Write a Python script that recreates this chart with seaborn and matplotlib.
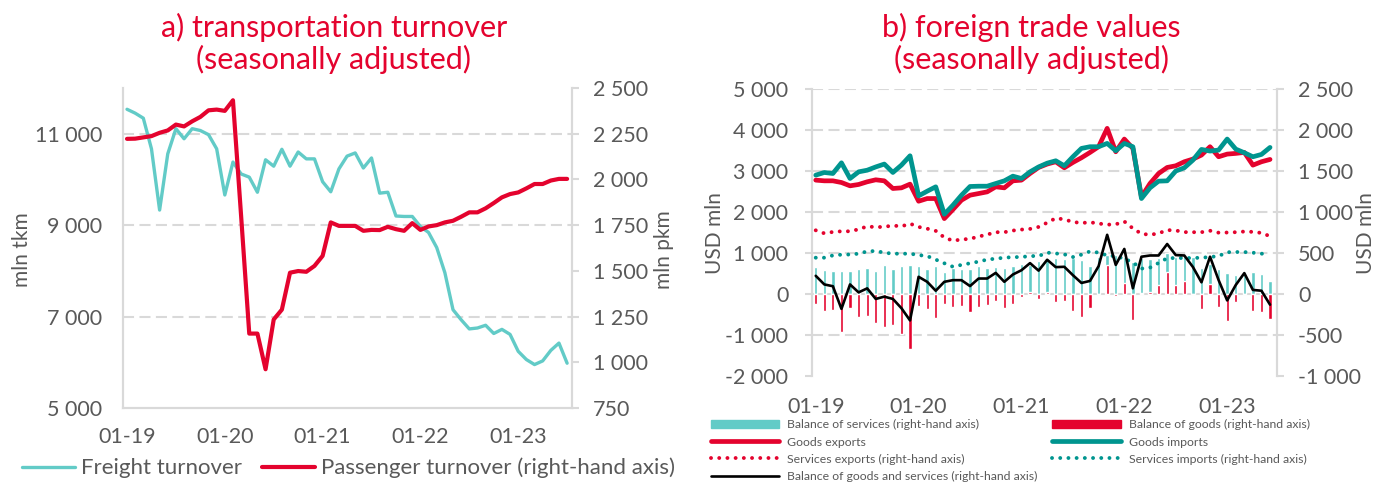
import numpy as np
import pandas as pd
import seaborn as sns
import matplotlib.pyplot as plt
from matplotlib.patches import Patch
from matplotlib.ticker import FuncFormatter, FixedLocator, MultipleLocator

# a) monthly, 01-19 .. 07-23
freight = [11535, 11450, 11340, 10670, 9330, 10560, 11110, 10890, 11110, 11070,
           10980, 10670, 9660, 10380, 10120, 10050, 9720, 10430, 10290, 10660,
           10290, 10600, 10450, 10450, 9950, 9730, 10230, 10510, 10580, 10250,
           10470, 9700, 9720, 9200, 9190, 9190, 8970, 8840, 8510, 7960,
           7150, 6930, 6730, 6750, 6810, 6630, 6720, 6610, 6240, 6060,
           5950, 6030, 6260, 6420, 5980]
passenger = [2222, 2223, 2230, 2237, 2255, 2268, 2300, 2290, 2318, 2342,
             2378, 2382, 2375, 2433, 1800, 1157, 1157, 962, 1234, 1288,
             1490, 1499, 1495, 1527, 1582, 1765, 1746, 1746, 1746, 1719,
             1724, 1723, 1741, 1728, 1719, 1761, 1724, 1743, 1750, 1765,
             1774, 1796, 1820, 1820, 1842, 1871, 1902, 1920, 1929, 1951,
             1975, 1975, 1994, 2003, 2003]

# b) monthly, 01-19 .. 06-23
goods_exports = [2778, 2761, 2761, 2720, 2639, 2672, 2737, 2786, 2761, 2574,
                 2590, 2680, 2264, 2329, 2329, 1840, 2060, 2289, 2411, 2451,
                 2492, 2615, 2590, 2761, 2778, 2940, 3087, 3170, 3226, 3079,
                 3209, 3324, 3454, 3593, 4041, 3470, 3780, 3552, 2370, 2696,
                 2940, 3087, 3128, 3226, 3291, 3389, 3593, 3348, 3413, 3430,
                 3454, 3144, 3226, 3283]
goods_imports = [2900, 2965, 2940, 3200, 2818, 2980, 3020, 3100, 3170, 2965,
                 3145, 3372, 2394, 2508, 2615, 1946, 2166, 2410, 2623, 2630,
                 2630, 2696, 2761, 2875, 2818, 2980, 3100, 3192, 3250, 3128,
                 3348, 3552, 3593, 3593, 3674, 3495, 3674, 3593, 2329, 2590,
                 2753, 2761, 3000, 3079, 3266, 3527, 3487, 3511, 3780, 3535,
                 3446, 3348, 3405, 3576]
services_exports = [777, 740, 757, 765, 765, 789, 825, 815, 820, 835,
                    825, 858, 818, 797, 770, 690, 650, 665, 673, 701,
                    725, 754, 754, 774, 786, 794, 818, 870, 925, 910,
                    879, 866, 875, 860, 846, 850, 885, 800, 735, 722,
                    740, 780, 775, 755, 754, 754, 772, 748, 750, 754,
                    762, 758, 745, 705]
services_imports = [443, 443, 471, 480, 482, 492, 520, 525, 504, 492,
                    492, 492, 475, 463, 420, 375, 333, 355, 375, 395,
                    420, 431, 443, 450, 451, 463, 463, 505, 495, 484,
                    451, 480, 520, 505, 471, 460, 431, 385, 310, 322,
                    379, 437, 439, 439, 439, 443, 451, 463, 510, 512,
                    512, 504, 492, 488]
services_balance = [330, 290, 282, 282, 282, 306, 322, 278, 359, 310,
                    347, 359, 343, 310, 339, 270, 318, 310, 310, 339,
                    318, 334, 313, 342, 363, 354, 404, 425, 438, 425,
                    438, 417, 346, 446, 480, 480, 446, 388, 438, 430,
                    438, 500, 446, 459, 446, 321, 363, 300, 259, 229,
                    259, 271, 250, 158]
goods_balance = [-117, -206, -197, -463, -165, -278, -262, -351, -399, -375,
                 -492, -665, -149, -181, -294, -117, -157, -149, -214, -153,
                 -133, -81, -165, -117, -40, 21, -60, 21, -101, -85,
                 -206, -278, -165, -5, 354, -20, 130, -314, 15, 29,
                 113, 271, 104, 154, 0, -185, 125, -153, -334, -93,
                 0, -206, -214, -302]
total_balance = [222, 117, 95, -181, 117, 20, 69, -60, -32, -60,
                 -173, -322, 210, 149, 40, 149, 169, 169, 97, 189,
                 189, 258, 149, 238, 290, 377, 285, 418, 328, 332,
                 230, 135, 160, 340, 722, 355, 550, 70, 455, 470,
                 470, 610, 475, 470, 330, 143, 455, 170, -78, 110,
                 255, 50, 40, -130]

tick_months = [0, 12, 24, 36, 48]
tick_labels = ["01-19", "01-20", "01-21", "01-22", "01-23"]

RED = "#E4032E"
TEAL = "#62CBC7"
DARK_TEAL = "#00958F"
GREY = "#595959"
LIGHT = "#D9D9D9"

sns.set_style("white")
plt.rcParams["font.family"] = ["Lato", "DejaVu Sans"]

df_a = pd.DataFrame({"month": np.arange(len(freight)),
                     "freight": freight, "passenger": passenger})
df_b = pd.DataFrame({"month": np.arange(len(goods_exports)),
                     "goods_exports": goods_exports,
                     "goods_imports": goods_imports,
                     "services_exports": services_exports,
                     "services_imports": services_imports,
                     "services_balance": services_balance,
                     "goods_balance": goods_balance,
                     "total_balance": total_balance})


def spaced(v, pos):
    return f"{v:,.0f}".replace(",", " ")


dash = (0, (5.3, 2.6))
dots = (0, (0.01, 2.1))
TICK_FS = 15.5

fig = plt.figure(figsize=(13.86, 4.86), dpi=100)

# ---------------- a) transportation turnover
ax = fig.add_axes([0.0887, 0.1605, 0.324, 0.6584])
ax2 = ax.twinx()
sns.lineplot(data=df_a, x="month", y="freight", ax=ax, color=TEAL, lw=2.4,
             legend=False, label="Freight turnover")
sns.lineplot(data=df_a, x="month", y="passenger", ax=ax2, color=RED, lw=3.0,
             legend=False, label="Passenger turnover (right-hand axis)")

ax.set_xlim(-0.5, 54.6)
ax.set_ylim(5000, 12000)
ax2.set_ylim(750, 2500)
ax.yaxis.set_major_locator(FixedLocator([5000, 7000, 9000, 11000]))
ax2.yaxis.set_major_locator(MultipleLocator(250))
for a in (ax, ax2):
    a.yaxis.set_major_formatter(FuncFormatter(spaced))
    for s in a.spines.values():
        s.set_color(LIGHT)
        s.set_linewidth(1.5)
    a.spines["top"].set_visible(False)
    a.grid(False)
for v in (7000, 9000, 11000):
    ax.axhline(v, color=LIGHT, lw=1.5, ls=dash, zorder=0)
ax.set_xticks(tick_months)
ax.set_xticklabels(tick_labels)
ax.tick_params(axis="x", length=5, width=1.5, color=LIGHT, direction="out",
               labelsize=TICK_FS, labelcolor=GREY, pad=9)
ax.tick_params(axis="y", length=0, labelsize=TICK_FS, labelcolor=GREY, pad=15)
ax2.tick_params(axis="y", length=5, width=1.5, color=LIGHT, direction="out",
                labelsize=TICK_FS, labelcolor=GREY, pad=10)
ax.set_xlabel("")
ax.set_ylabel("mln tkm", fontsize=15, color=GREY, va="center")
ax.yaxis.set_label_coords(-0.225, 0.494)
ax2.set_ylabel("mln pkm", fontsize=15, color=GREY, va="center", rotation=90)
ax2.yaxis.set_label_coords(1.205, 0.494)

h1, l1 = ax.get_legend_handles_labels()
h2, l2 = ax2.get_legend_handles_labels()
fig.legend(h1 + h2, l1 + l2, loc="center left", bbox_to_anchor=(22 / 1386, 0.037),
           ncol=2, frameon=False, fontsize=16, labelcolor=GREY,
           handlelength=2.4, handletextpad=0.25, columnspacing=0.9,
           borderpad=0, borderaxespad=0)

fig.text(334 / 1386, 0.9105, "a) transportation turnover\n(seasonally adjusted)",
         ha="center", va="center", fontsize=22, color=RED, linespacing=1.1)

# ---------------- b) foreign trade values
bx = fig.add_axes([0.5859, 0.2263, 0.3355, 0.5905])
bx2 = bx.twinx()

sns.barplot(data=df_b, x="month", y="services_balance", ax=bx2, native_scale=True,
            width=0.4, color=TEAL, saturation=1, errorbar=None, legend=False, zorder=2)
sns.barplot(data=df_b, x="month", y="goods_balance", ax=bx2, native_scale=True,
            width=0.36, color=RED, saturation=1, errorbar=None, legend=False, zorder=3)
sns.lineplot(data=df_b, x="month", y="services_exports", ax=bx2, color=RED, lw=2.8,
             linestyle=dots, dash_capstyle="round", legend=False, zorder=4,
             label="Services exports (right-hand axis)")
sns.lineplot(data=df_b, x="month", y="services_imports", ax=bx2, color=DARK_TEAL, lw=2.8,
             linestyle=dots, dash_capstyle="round", legend=False, zorder=4,
             label="Services imports (right-hand axis)")
sns.lineplot(data=df_b, x="month", y="total_balance", ax=bx2, color="black", lw=1.9,
             legend=False, zorder=5, label="Balance of goods and services (right-hand axis)")
sns.lineplot(data=df_b, x="month", y="goods_exports", ax=bx, color=RED, lw=3.4,
             legend=False, zorder=3, label="Goods exports")
sns.lineplot(data=df_b, x="month", y="goods_imports", ax=bx, color=DARK_TEAL, lw=3.4,
             legend=False, zorder=3, label="Goods imports")

bx.set_xlim(-0.43, 53.82)
bx.set_ylim(-2000, 5000)
bx2.set_ylim(-1000, 2500)
bx.yaxis.set_major_locator(MultipleLocator(1000))
bx2.yaxis.set_major_locator(MultipleLocator(500))
for a in (bx, bx2):
    a.yaxis.set_major_formatter(FuncFormatter(spaced))
    for s in a.spines.values():
        s.set_color(LIGHT)
        s.set_linewidth(1.5)
    a.spines["top"].set_visible(False)
    a.spines["bottom"].set_visible(False)
    a.grid(False)
for v in (-1000, 1000, 2000, 3000, 4000, 5000):
    bx.axhline(v, color=LIGHT, lw=1.5, ls=dash, zorder=0)
bx.axhline(0, color=LIGHT, lw=1.5, zorder=0.5)
bx.set_xticks(tick_months)
bx.set_xticklabels(tick_labels)
bx.tick_params(axis="x", length=0, labelsize=TICK_FS, labelcolor=GREY, pad=15)
bx.tick_params(axis="y", length=5, width=1.5, color=LIGHT, direction="out",
               labelsize=TICK_FS, labelcolor=GREY, pad=12)
bx2.tick_params(axis="y", length=5, width=1.5, color=LIGHT, direction="out",
                labelsize=TICK_FS, labelcolor=GREY, pad=10)
bx.set_xlabel("")
bx2.set_xlabel("")
bx.set_ylabel("USD mln", fontsize=15, color=GREY, va="center")
bx.yaxis.set_label_coords(-0.2086, 0.498)
bx2.set_ylabel("USD mln", fontsize=15, color=GREY, va="center", rotation=90)
bx2.yaxis.set_label_coords(1.191, 0.498)

lines = {l.get_label(): l for l in bx.get_lines() + bx2.get_lines()}
handles = [Patch(color=TEAL), lines["Goods exports"],
           lines["Services exports (right-hand axis)"],
           lines["Balance of goods and services (right-hand axis)"],
           Patch(color=RED), lines["Goods imports"],
           lines["Services imports (right-hand axis)"]]
labels = ["Balance of services (right-hand axis)", "Goods exports",
          "Services exports (right-hand axis)",
          "Balance of goods and services (right-hand axis)",
          "Balance of goods (right-hand axis)", "Goods imports",
          "Services imports (right-hand axis)"]
fig.legend(handles, labels, loc="upper left", bbox_to_anchor=(711 / 1386, 0.137),
           ncol=2, frameon=False, fontsize=8.8, labelcolor=GREY,
           handlelength=5.6, handletextpad=0.65, columnspacing=1.2,
           labelspacing=0.5, borderpad=0, borderaxespad=0)

fig.text(1031 / 1386, 0.9105, "b) foreign trade values\n(seasonally adjusted)",
         ha="center", va="center", fontsize=22, color=RED, linespacing=1.1)

fig.savefig("out.png", dpi=100)
